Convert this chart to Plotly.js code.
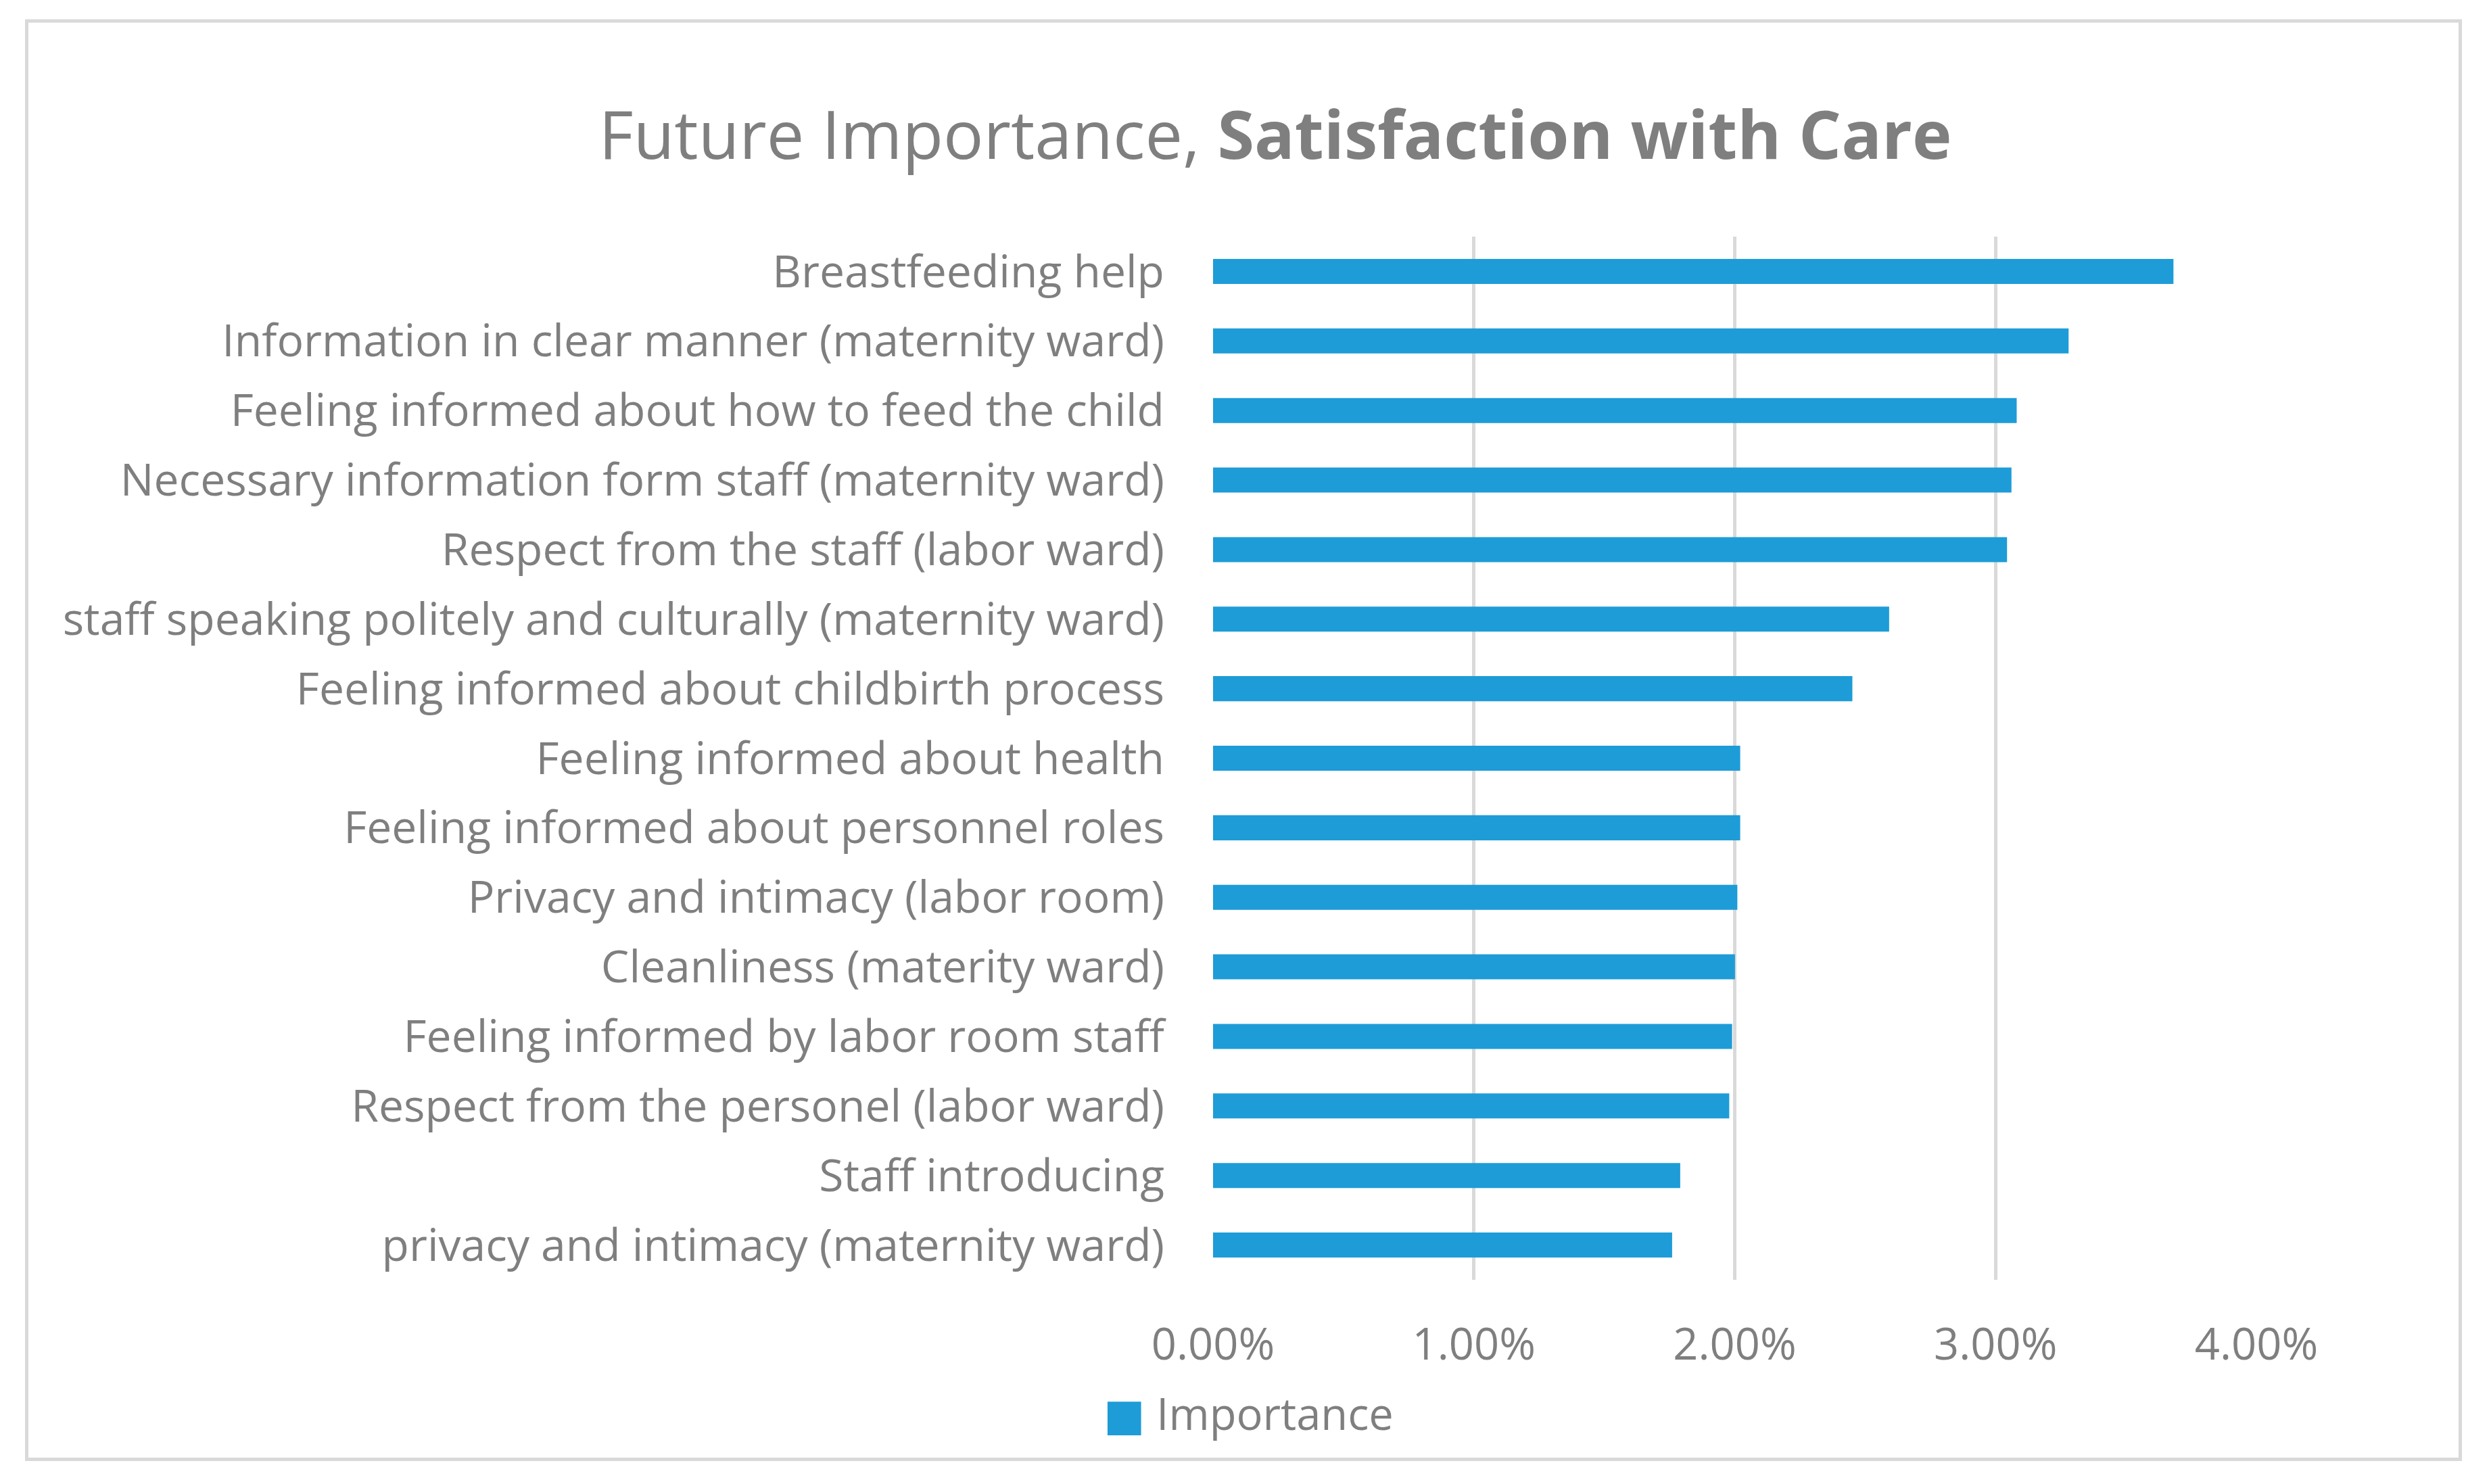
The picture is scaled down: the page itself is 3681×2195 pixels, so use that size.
<!DOCTYPE html>
<html>
<head>
<meta charset="utf-8">
<script src="https://cdn.plot.ly/plotly-3.0.1.min.js"></script>
<style>html,body{margin:0;padding:0;background:#fff;}#chart{width:3681px;height:2195px;}</style>
</head>
<body>
<div id="chart"></div>
<script>
// Categories, top to bottom as shown
const categories = [
  "Breastfeeding help",
  "Information in clear manner (maternity ward)",
  "Feeling informed about how to feed the child",
  "Necessary information form staff (maternity ward)",
  "Respect from the staff (labor ward)",
  "staff speaking politely and culturally (maternity ward)",
  "Feeling informed about childbirth process",
  "Feeling informed about health",
  "Feeling informed about personnel roles",
  "Privacy and intimacy (labor room)",
  "Cleanliness (materity ward)",
  "Feeling informed by labor room staff",
  "Respect from the personel (labor ward)",
  "Staff introducing",
  "privacy and intimacy (maternity ward)"
];
// Importance values (fractions, shown as %)
const importance = [
  0.03682, 0.03280, 0.03081, 0.03061, 0.03044, 0.02592, 0.02451,
  0.02021, 0.02021, 0.02010, 0.02001, 0.01990, 0.01979, 0.01791, 0.01760
];
const xTickValues = [0, 0.01, 0.02, 0.03, 0.04];
const xTickLabels = ["0.00%", "1.00%", "2.00%", "3.00%", "4.00%"];
const seriesName = "Importance";
const titleNormal = "Future Importance, ";
const titleBold = "Satisfaction with Care";

const W = 3681, H = 2195;
const L = 1794, R = 344, T = 350, B = 302;
const PW = W - L - R, PH = H - T - B;
const px2x = p => (p - L) / PW;
const py2y = p => (H - B - p) / PH;

const FONT = "'Open Sans', Lato, sans-serif";
const GRAY = "#7f7f7f";
const BLUE = "#1e9cd7";

const trace = {
  type: "bar",
  orientation: "h",
  y: categories,
  x: importance,
  name: seriesName,
  marker: {color: BLUE},
  showlegend: false
};

const layout = {
  width: W, height: H,
  margin: {l: L, r: R, t: T, b: B, pad: 0},
  paper_bgcolor: "#ffffff",
  plot_bgcolor: "#ffffff",
  bargap: 0.64,
  font: {family: FONT, color: GRAY, size: 66},
  title: {
    text: titleNormal + "<b>" + titleBold + "</b>",
    font: {family: FONT, size: 99, color: GRAY},
    x: 1886 / W, xanchor: "center", xref: "container",
    y: 1 - 200 / H, yanchor: "middle", yref: "container"
  },
  xaxis: {
    range: [0, 0.04],
    tickvals: xTickValues,
    ticktext: xTickLabels,
    showgrid: true, gridcolor: "#d9d9d9", gridwidth: 5,
    zeroline: false,
    showline: false,
    ticks: "",
    ticklabelstandoff: 52,
    tickfont: {family: FONT, size: 65, color: GRAY},
    fixedrange: true
  },
  yaxis: {
    type: "category",
    autorange: "reversed",
    showgrid: false, zeroline: false, showline: false,
    ticks: "",
    ticklabelstandoff: 71,
    tickfont: {family: FONT, size: 66, color: GRAY},
    fixedrange: true
  },
  shapes: [{
    type: "rect", xref: "paper", yref: "paper",
    x0: px2x(39.5), x1: px2x(3638.5), y0: py2y(2158.5), y1: py2y(31),
    line: {color: "#d9d9d9", width: 5}, fillcolor: "rgba(0,0,0,0)", layer: "below"
  }],
  annotations: [{
    xref: "paper", yref: "paper",
    x: px2x(1630), y: py2y(2090),
    xanchor: "left", yanchor: "middle",
    showarrow: false,
    text: "<span style='color:" + BLUE + ";font-family:DejaVu Sans'>■</span> " + seriesName,
    font: {family: FONT, size: 65, color: GRAY}
  }]
};

Plotly.newPlot("chart", [trace], layout, {staticPlot: true, displayModeBar: false});
</script>
</body>
</html>
